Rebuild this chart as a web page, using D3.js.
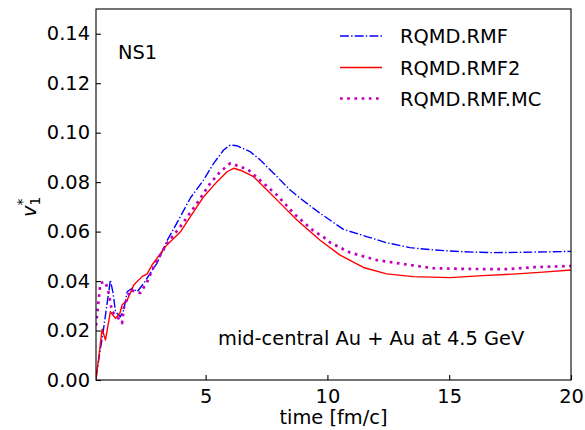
<!DOCTYPE html>
<html><head><meta charset="utf-8">
<script src="https://cdn.jsdelivr.net/npm/d3@7"></script>
<style>body{margin:0;background:#fff}text{font-family:"DejaVu Sans",sans-serif}</style>
</head><body><svg id="c" width="585" height="430"></svg>
<script>
const xTicks = [5, 10, 15, 20];
const yTicks = [0, 0.02, 0.04, 0.06, 0.08, 0.10, 0.12, 0.14];
const seriesNames = ["RQMD.RMF", "RQMD.RMF2", "RQMD.RMF.MC"];
const tRMF = [0.5,0.8,1.09,1.2,1.3,1.5,1.64,1.78,1.98,2.19,2.46,3.0,3.4,3.96,4.37,4.92,5.33,5.74,6.01,6.29,6.83,7.24,7.79,8.47,8.88,9.7,10.66,11.61,12.43,13.39,14.34,15.44,16.67,17.76,19.0,20];
const vRMF = [0.001,0.02,0.0404,0.0352,0.0276,0.0256,0.0283,0.0357,0.0371,0.0357,0.0391,0.0472,0.056,0.066,0.0735,0.0809,0.0876,0.093,0.095,0.0947,0.0923,0.089,0.0836,0.0768,0.0735,0.0674,0.0609,0.058,0.0555,0.0535,0.0526,0.0519,0.0515,0.0516,0.0518,0.052];
const tRMF2 = [0.5,0.75,0.89,1.09,1.3,1.48,1.57,1.78,2.05,2.39,2.6,2.8,3.4,3.96,4.37,4.92,5.47,5.88,6.15,6.49,6.97,7.52,8.2,8.75,9.43,9.7,10.52,11.48,12.43,13.52,15.03,16.39,17.76,19.0,20];
const vRMF2 = [0,0.0205,0.0162,0.0276,0.0249,0.027,0.0303,0.0323,0.0384,0.0418,0.0429,0.0465,0.0545,0.0598,0.066,0.0741,0.0802,0.0842,0.0856,0.0846,0.0822,0.0768,0.0701,0.0647,0.0588,0.0565,0.0505,0.0455,0.0429,0.0418,0.0414,0.0422,0.0429,0.0437,0.0445];
const tMC = [0.5,0.68,0.89,1.02,1.16,1.37,1.57,1.64,1.91,2.32,2.6,2.87,3.4,3.96,4.65,5.19,5.6,6.01,6.42,6.76,7.38,7.93,8.61,9.43,9.84,10.11,10.93,12.02,13.11,14.34,15.71,17.35,18.44,20];
const vMC = [0.022,0.0392,0.0397,0.0352,0.0276,0.0256,0.023,0.0291,0.0364,0.0352,0.0397,0.0458,0.055,0.062,0.0715,0.0795,0.0842,0.0876,0.0863,0.0849,0.0795,0.0748,0.0674,0.0603,0.0578,0.0556,0.0515,0.0485,0.0469,0.0452,0.0449,0.0448,0.0456,0.0461];

const L = 96, R = 571, T = 9, B = 380, FS = 19.4;
const svg = d3.select("#c");
const x = d3.scaleLinear().domain([0.5, 20]).range([L, R]);
const y = d3.scaleLinear().domain([0, 0.15]).range([B, T]);

svg.append("defs").append("clipPath").attr("id", "clip")
  .append("rect").attr("x", L).attr("y", T).attr("width", R - L).attr("height", B - T);

const styles = [
  {color: "#0000ff", width: 1.39, dash: "8.9,2.2,1.4,2.2"},
  {color: "#ff0000", width: 1.39, dash: null},
  {color: "#bf00bf", width: 2.7, dash: "2.7,4.5"}
];
const data = [
  tRMF.map((t, i) => [t, vRMF[i]]),
  tRMF2.map((t, i) => [t, vRMF2[i]]),
  tMC.map((t, i) => [t, vMC[i]])
];
const line = d3.line().x(d => x(d[0])).y(d => y(d[1]));
const g = svg.append("g").attr("clip-path", "url(#clip)");
data.forEach((d, i) => {
  g.append("path").attr("d", line(d)).attr("fill", "none")
    .attr("stroke", styles[i].color).attr("stroke-width", styles[i].width)
    .attr("stroke-dasharray", styles[i].dash).attr("stroke-linejoin", "round");
});

// axes
const xa = svg.append("g").attr("transform", `translate(0,${B})`)
  .call(d3.axisBottom(x).tickValues(xTicks).tickSizeInner(-4.9).tickSizeOuter(0).tickPadding(9).tickFormat(d3.format("d")));
const ya = svg.append("g").attr("transform", `translate(${L},0)`)
  .call(d3.axisLeft(y).tickValues(yTicks).tickSizeInner(-4.9).tickSizeOuter(0).tickPadding(6).tickFormat(d3.format(".2f")));
[xa, ya].forEach(a => {
  a.select(".domain").remove();
  a.selectAll("line").attr("stroke", "#000").attr("stroke-width", 1.1);
  a.selectAll("text").attr("font-size", FS).attr("fill", "#000").attr("font-family", "DejaVu Sans");
});
svg.append("rect").attr("x", L).attr("y", T).attr("width", R - L).attr("height", B - T)
  .attr("fill", "none").attr("stroke", "#000").attr("stroke-width", 1.1);

// axis labels
svg.append("text").attr("x", (L + R) / 2).attr("y", 424).attr("text-anchor", "middle")
  .attr("font-size", FS).text("time [fm/c]");
const yl = svg.append("text").attr("transform", "translate(36,207) rotate(-90)")
  .attr("font-size", FS);
yl.append("tspan").attr("x", -10).attr("font-style", "italic").text("v");
yl.append("tspan").attr("dy", 4).attr("font-size", 13.6).text("1");
yl.append("tspan").attr("dx", -8.6).attr("dy", -13).attr("font-size", 13.6).text("*");

// annotations
svg.append("text").attr("x", 118).attr("y", 59).attr("font-size", FS).text("NS1");
svg.append("text").attr("x", 218).attr("y", 345).attr("font-size", FS).text("mid-central Au + Au at 4.5 GeV");

// legend
const ly = [36, 67.5, 98.5];
seriesNames.forEach((n, i) => {
  svg.append("line").attr("x1", 340).attr("x2", 382).attr("y1", ly[i]).attr("y2", ly[i])
    .attr("stroke", styles[i].color).attr("stroke-width", styles[i].width)
    .attr("stroke-dasharray", styles[i].dash);
  svg.append("text").attr("x", 400).attr("y", ly[i] + 7).attr("font-size", FS).text(n);
});
</script></body></html>
